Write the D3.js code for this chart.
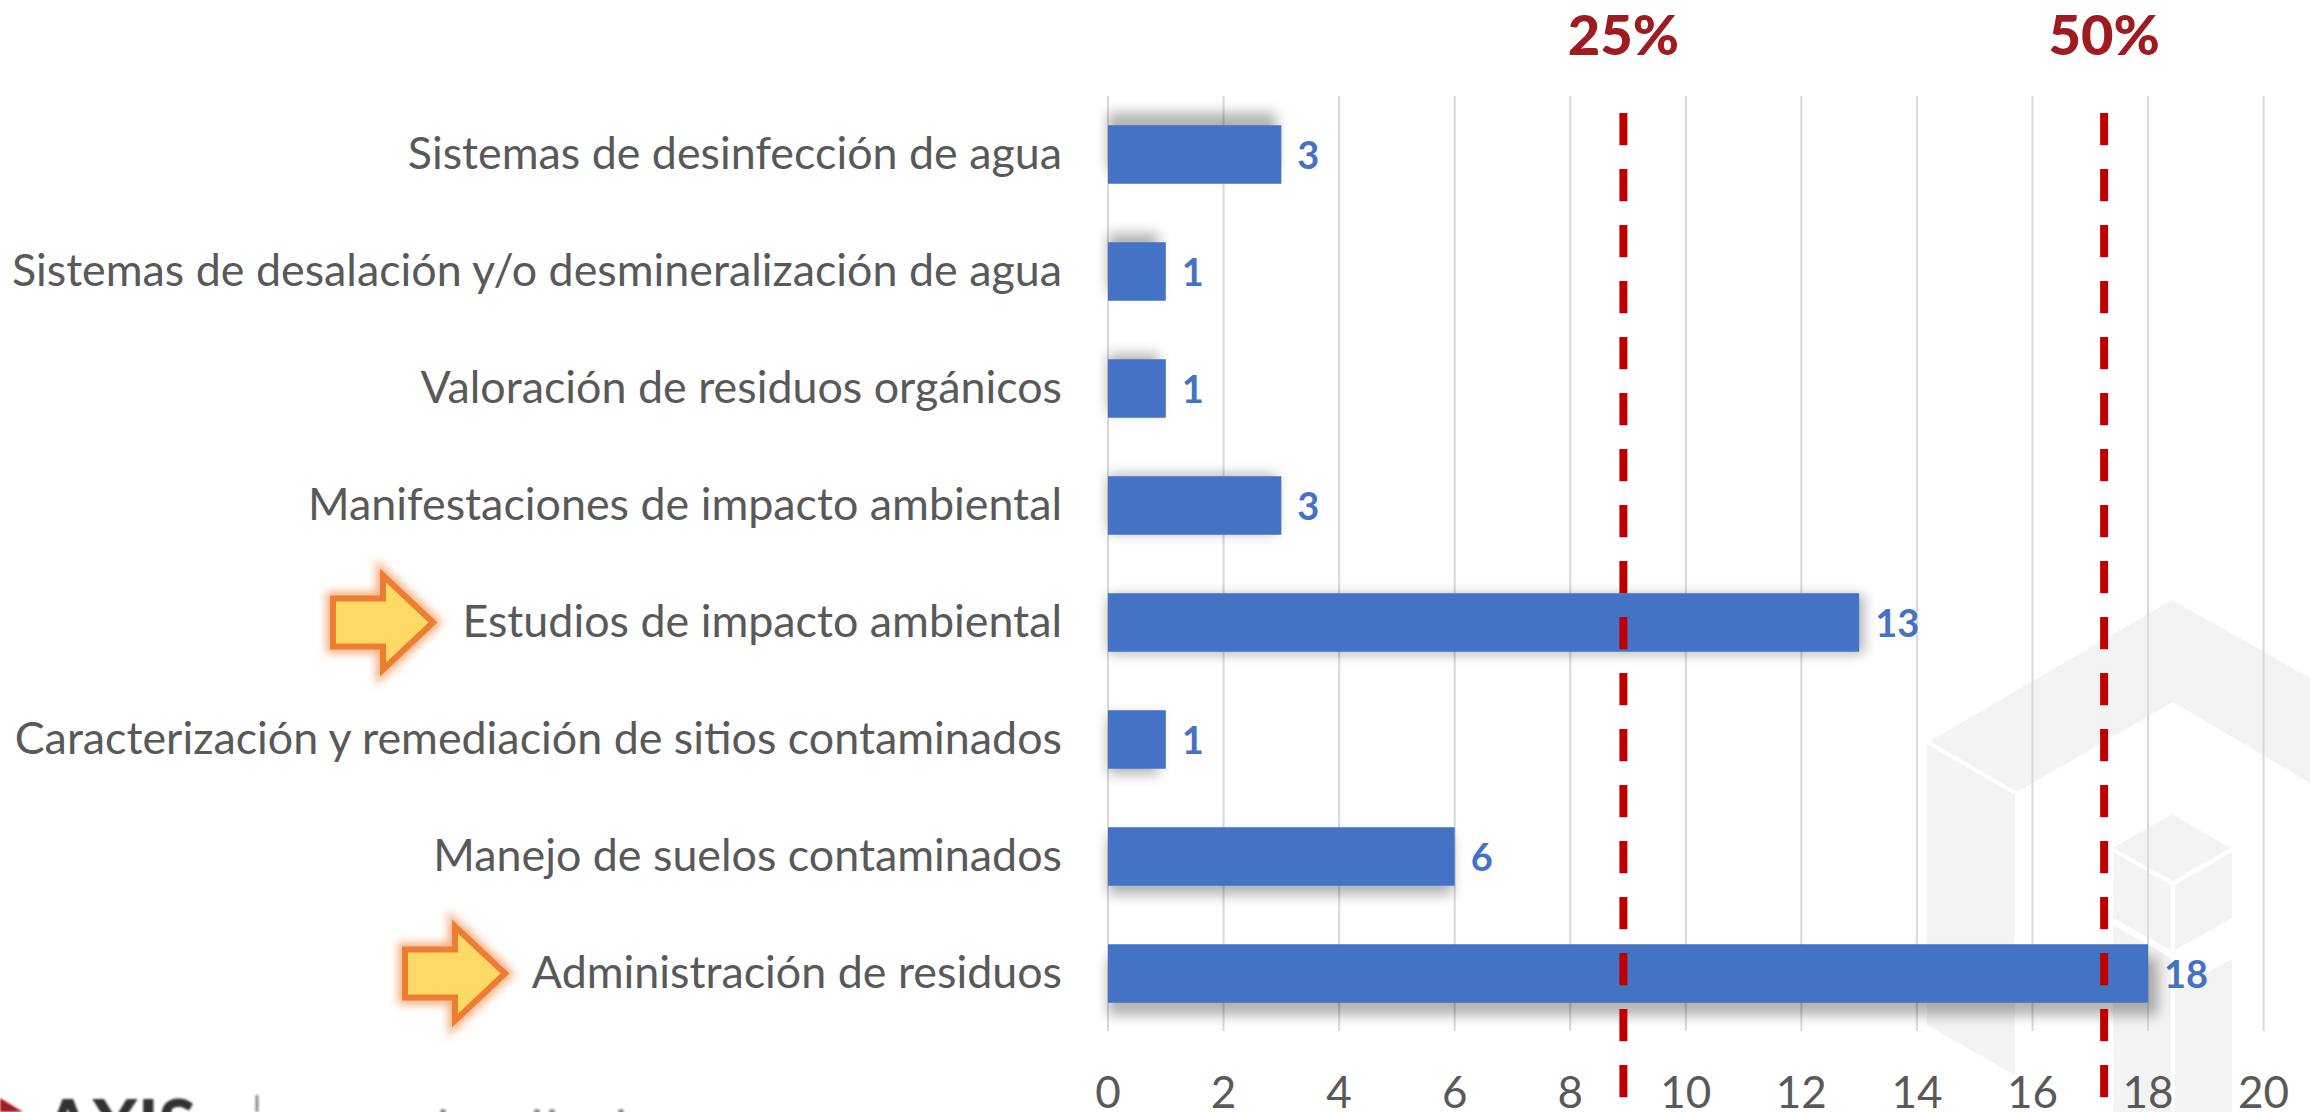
<!DOCTYPE html>
<html><head><meta charset="utf-8">
<script src="https://cdn.jsdelivr.net/npm/d3@7"></script>
<style>html,body{margin:0;padding:0;background:#fff;overflow:hidden}svg{display:block}text{font-family:Lato,"Open Sans",sans-serif}</style>
</head><body><svg id="c" width="2310" height="1112"></svg>
<script>
const categories=["Sistemas de desinfección de agua","Sistemas de desalación y/o desmineralización de agua","Valoración de residuos orgánicos","Manifestaciones de impacto ambiental","Estudios de impacto ambiental","Caracterización y remediación de sitios contaminados","Manejo de suelos contaminados","Administración de residuos"];
const values=[3,1,1,3,13,1,6,18];
const xTicks=[0,2,4,6,8,10,12,14,16,18,20];
const refValues=[8.92,17.24];
const refLabels=["25%","50%"];
const highlighted=["Estudios de impacto ambiental","Administración de residuos"];

const svg=d3.select("#c");
const x=d3.scaleLinear().domain([0,20]).range([1108,2263.6]);
const y=d3.scaleBand().domain(categories).range([96,1032]).paddingInner(0.5).paddingOuter(0.25);
const defs=svg.append("defs");
const blur=defs.append("filter").attr("id","sh").attr("x","-30%").attr("y","-60%").attr("width","160%").attr("height","220%");
blur.append("feGaussianBlur").attr("stdDeviation",6.5);
const glow=defs.append("filter").attr("id","glow").attr("x","-30%").attr("y","-30%").attr("width","160%").attr("height","160%");
glow.append("feGaussianBlur").attr("stdDeviation",4);
const soft=defs.append("filter").attr("id","soft");
soft.append("feGaussianBlur").attr("stdDeviation",1);

// watermark
const wm=svg.append("g").attr("fill","#f3f3f3");
[[[2172,600],[2310,678],[2310,783],[2173,702],[2017,792],[1930,741]],
 [[1927,744],[2015,795],[2015,1075],[1927,1025]],
 [[2113,848],[2172,814],[2230,848],[2173,881]],
 [[2113,852],[2171,885],[2171,950],[2113,918]],
 [[2175,885],[2232,852],[2232,918],[2175,950]],
 [[2113,925],[2171,958],[2171,1112],[2113,1112]],
 [[2175,991],[2232,959],[2232,1112],[2175,1112]]
].forEach(p=>wm.append("polygon").attr("points",p.join(" ")));

// grid
svg.append("g").selectAll("line").data(xTicks).join("line")
 .attr("x1",d=>x(d)).attr("x2",d=>x(d)).attr("y1",96).attr("y2",1031)
 .attr("stroke","#d9d9d9").attr("stroke-width",2);

// shadows + bars
svg.append("g").selectAll("rect").data(categories).join("rect")
 .attr("x",x(0)).attr("y",(d,i)=>y(d)+(i-3.5)*3.6).attr("width",(d,i)=>x(values[i])-x(0)+(values[i]-8))
 .attr("height",y.bandwidth()).attr("fill","#000").attr("opacity",.3).attr("filter","url(#sh)");
svg.append("g").selectAll("rect").data(categories).join("rect")
 .attr("x",x(0)).attr("y",d=>y(d)).attr("width",(d,i)=>x(values[i])-x(0)).attr("height",y.bandwidth()).attr("fill","#4472c4");

// value labels
svg.append("g").selectAll("text").data(categories).join("text")
 .attr("x",(d,i)=>x(values[i])+16).attr("y",d=>y(d)+y.bandwidth()/2+14)
 .attr("fill","#4472c4").attr("font-size",38).attr("font-weight",700).text((d,i)=>values[i]);

// category labels
svg.append("g").selectAll("text").data(categories).join("text")
 .attr("x",1062).attr("y",d=>y(d)+y.bandwidth()/2+14)
 .attr("text-anchor","end").attr("fill","#595959").attr("font-size",44.8).text(d=>d);

// x ticks
svg.append("g").selectAll("text").data(xTicks).join("text")
 .attr("x",d=>x(d)).attr("y",1108).attr("text-anchor","middle").attr("fill","#595959").attr("font-size",44).text(d=>d);

// reference lines
svg.append("g").selectAll("line").data(refValues).join("line")
 .attr("x1",d=>x(d)).attr("x2",d=>x(d)).attr("y1",113).attr("y2",1099)
 .attr("stroke","#c00000").attr("stroke-width",8).attr("stroke-dasharray","32.3 23.7");
svg.append("g").selectAll("text").data(refLabels).join("text")
 .attr("x",(d,i)=>x(refValues[i])).attr("y",55).attr("text-anchor","middle")
 .attr("fill","#9e1b20").attr("font-size",56).attr("font-weight",900).text(d=>d);

// highlight arrows
const arrow=d3.line();
highlighted.forEach((c,k)=>{
  const m=y(c)+y.bandwidth()/2, tw=k===0?433:505, l=tw-100, h=tw-50;
  const p=[[l,m-24],[h,m-24],[h,m-47],[tw,m],[h,m+47],[h,m+24],[l,m+24]];
  svg.append("path").attr("d",arrow(p)+"Z").attr("fill","none").attr("stroke","#f4b183").attr("stroke-width",14).attr("filter","url(#glow)");
  svg.append("path").attr("d",arrow(p)+"Z").attr("fill","#ffd966").attr("stroke","#ed7d31").attr("stroke-width",6);
});

// logo cut by the lower edge
const logo=svg.append("g").attr("filter","url(#soft)");
logo.append("path").attr("d",d3.line()([[0,1098],[23,1112],[0,1112]])+"Z").attr("fill","#a01c22");
logo.append("text").attr("x",44).attr("y",1149).attr("font-size",68).attr("font-weight",900).attr("fill","#333").text("AXIS");
logo.append("line").attr("x1",257).attr("x2",257).attr("y1",1095).attr("y2",1112).attr("stroke","#888").attr("stroke-width",3);
logo.selectAll("circle").data([443,537,552,621]).join("circle").attr("cx",d=>d).attr("cy",1112).attr("r",3).attr("fill","#888");
</script></body></html>
